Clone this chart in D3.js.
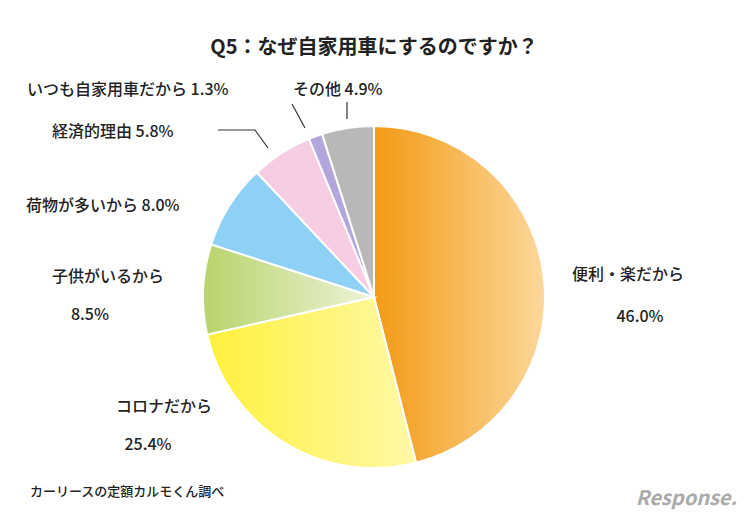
<!DOCTYPE html>
<html><head><meta charset="utf-8">
<script src="https://cdn.jsdelivr.net/npm/d3@7"></script>
<style>body{margin:0;background:#fff}text{font-family:"Noto Sans CJK JP","Noto Sans",sans-serif;fill:#222}</style>
</head><body><svg id="c" width="750" height="520"></svg>
<script>
const categories=["便利・楽だから","コロナだから","子供がいるから","荷物が多いから","経済的理由","いつも自家用車だから","その他"];
const values=[46.0,25.4,8.5,8.0,5.8,1.3,4.9];
const colorsA=["#f39a14","#fff03c","#b8d46c","#8fd0f5","#f6cde2","#b3a6dd","#b8b8b8"];
const colorsB=["#fbd89c","#fff9a8","#eef3d8","#8fd0f5","#f6cde2","#b3a6dd","#b8b8b8"];
const svg=d3.select("#c");
const cx=374,cy=297,R=171;
const defs=svg.append("defs");
const data=categories.map((c,i)=>({c,v:values[i],i}));
const arcs=d3.pie().value(d=>d.v).sort(null)(data);
arcs.forEach((a,i)=>{
  const g=defs.append("linearGradient").attr("id","g"+i).attr("x1","0").attr("x2","1").attr("y1","0").attr("y2","0");
  g.append("stop").attr("offset","0").attr("stop-color",colorsA[i]);
  g.append("stop").attr("offset","1").attr("stop-color",colorsB[i]);
});
const arc=d3.arc().innerRadius(0).outerRadius(R);
const pg=svg.append("g").attr("transform",`translate(${cx},${cy})`);
pg.selectAll("path").data(arcs).join("path").attr("d",arc)
  .attr("fill",(d,i)=>`url(#g${i})`).attr("stroke","#fff").attr("stroke-width",2);
svg.append("text").attr("x",374).attr("y",54).attr("text-anchor","middle").attr("font-size",20).attr("font-weight","bold").text("Q5：なぜ自家用車にするのですか？");
const fs=16;
function t(x,y,s,a){svg.append("text").attr("x",x).attr("y",y).attr("font-size",fs).attr("font-weight",500).attr("text-anchor",a||"start").text(s);}
t(572,280,categories[0]);t(640,322,values[0].toFixed(1)+"%","middle");
t(116,412,categories[1]);t(148,450,values[1].toFixed(1)+"%","middle");
t(52,282,categories[2]);t(90,320,values[2].toFixed(1)+"%","middle");
t(26,211,categories[3]+" "+values[3].toFixed(1)+"%");
t(52,137,categories[4]+" "+values[4].toFixed(1)+"%");
t(27,95,categories[5]+" "+values[5].toFixed(1)+"%");
t(293,95,categories[6]+" "+values[6].toFixed(1)+"%");
const ln=(pts)=>svg.append("path").attr("d",d3.line()(pts)).attr("fill","none").attr("stroke","#333").attr("stroke-width",1.2);
ln([[218,130],[255,130],[268,148]]);
ln([[292,104],[305,128]]);
ln([[347,102],[347,119]]);
svg.append("text").attr("x",30).attr("y",496).attr("font-size",13).attr("font-weight",500).text("カーリースの定額カルモくん調べ");
svg.append("text").attr("x",737).attr("y",505).attr("text-anchor","end").attr("font-size",20).attr("font-style","italic").attr("font-weight","bold").style("fill","#aaa").text("Response.");
</script></body></html>
